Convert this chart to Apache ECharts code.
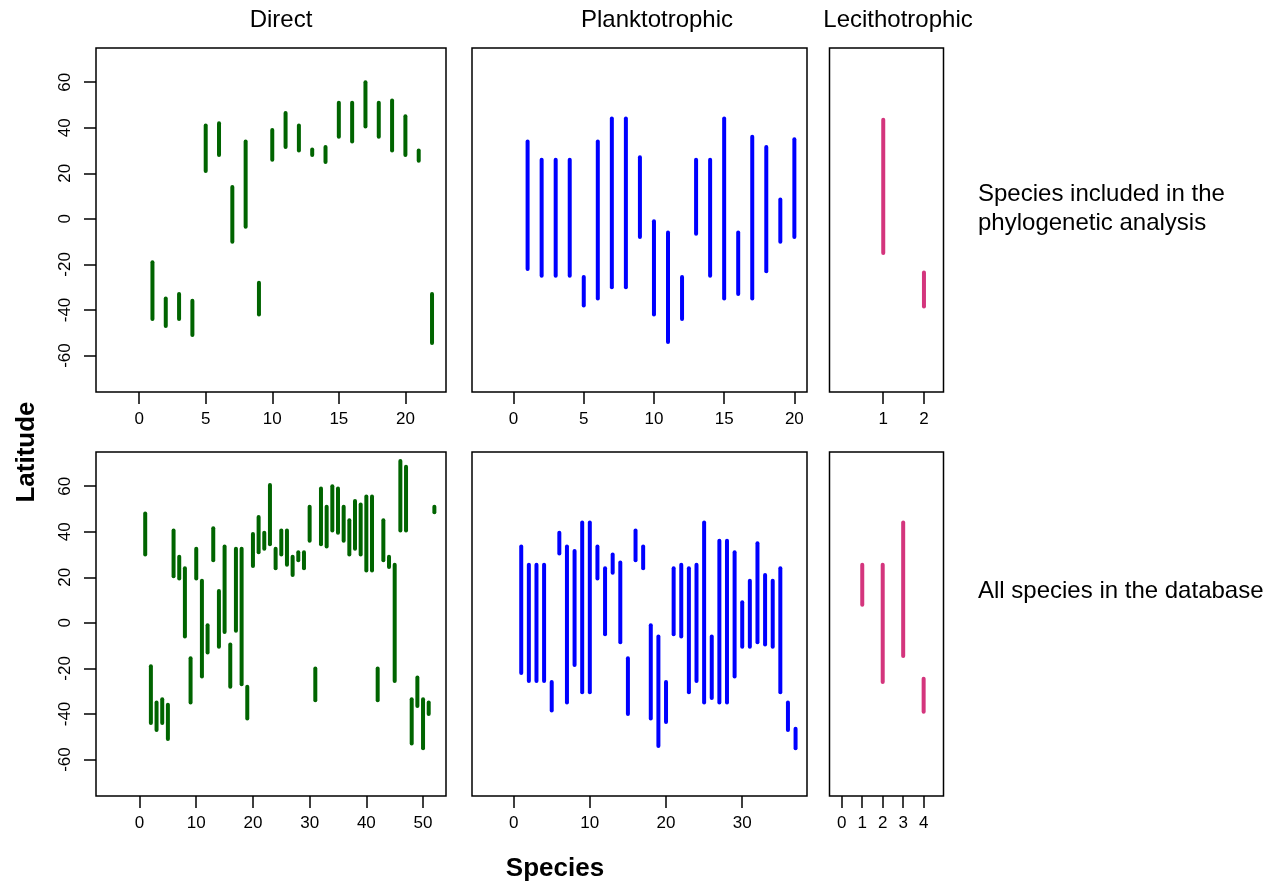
<!DOCTYPE html>
<html>
<head>
<meta charset="utf-8">
<script src="https://cdn.jsdelivr.net/npm/echarts@6/dist/echarts.min.js"></script>
<style>
  html, body { margin: 0; padding: 0; background: #fff; }
  #chart { width: 1271px; height: 883px; }
</style>
</head>
<body>
<div id="chart"></div>
<script>
// latitude ranges per species, species numbered 1..n in each panel
// top row: species included in the phylogenetic analysis
var directTopLo = [-44, -47, -44, -51, 21, 28, -10, -3.5, -42, 26, 31.5, 30, 28, 25, 36, 34, 40.5, 36, 30, 28, 25.5, -54.5];
var directTopHi = [-19, -35, -33, -36, 41, 42, 14, 34, -28, 39, 46.5, 41, 30.5, 31.5, 51, 51, 60, 51, 52, 45, 30, -33];

var planktoTopLo = [-22, -25, -25, -25, -38, -35, -30, -30, -8, -42, -54, -44, -6.5, -25, -35, -33, -35, -23, -10, -8];
var planktoTopHi = [34, 26, 26, 26, -25.5, 34, 44, 44, 27, -1, -6, -25.5, 26, 26, 44, -6, 36, 31.5, 8.5, 35];

var lecithoTopLo = [-15, -38.5];
var lecithoTopHi = [43.5, -23.5];

// bottom row: all species in the database
var directAllLo = [30, -44, -47, -44, -51, 20.5, 19.5, -6, -35, 19.5, -23.5, -13, 27.5, -10.5, -4, -28, -3.5, -27, -42, 25,
  31, 32.5, 34.5, 24, 30, 25.5, 21, 27.5, 24, 36, -34, 34.5, 33.5, 40.5, 39.5, 36, 30, 32.5, 30, 23,
  23, -34, 27.5, 24.5, -25.5, 40.5, 40.5, -53, -36.5, -55, -40, 48.5];
var directAllHi = [48, -19, -35, -33.5, -36, 40.5, 29, 24, -15.5, 32.5, 18.5, -1, 41.5, 14, 33.5, -9.5, 32.5, 32.5, -28, 39,
  46.5, 39.5, 60.5, 32.5, 40.5, 40.5, 29, 31, 31, 51, -20, 59, 51, 60, 59, 51, 45, 53.5, 52, 55.5,
  55.5, -20, 45, 29, 25.5, 71, 68.5, -33.5, -24, -33.5, -35, 51];

var planktoAllLo = [-22, -25.5, -25.5, -25.5, -38.5, 30.5, -35, -18.5, -30.5, -30.5, 19.5, -5, 22, -8.5, -40, 27.5, 24, -42, -54,
  -43.5, -5, -6, -30.5, -25.5, -35, -33, -35, -35, -23.5, -10.5, -10.5, -8.5, -9.5, -10.5, -30.5, -47, -55];
var planktoAllHi = [33.5, 25.5, 25.5, 25.5, -26, 39.5, 33.5, 31.5, 44, 44, 33.5, 24, 30, 26.5, -15.5, 40.5, 33.5, -1, -6,
  -26, 24, 25.5, 24, 25.5, 44, -6, 36, 36, 31, 9, 18.5, 35, 21, 18.5, 24, -35, -46.5];

var lecithoAllLo = [8, -26, -14.5, -39];
var lecithoAllHi = [25.5, 25.5, 44, -24.5];

// axis ticks
var latTicks = [-60, -40, -20, 0, 20, 40, 60];
var directTopTicks = [0, 5, 10, 15, 20];
var planktoTopTicks = [0, 5, 10, 15, 20];
var lecithoTopTicks = [1, 2];
var directAllTicks = [0, 10, 20, 30, 40, 50];
var planktoAllTicks = [0, 10, 20, 30];
var lecithoAllTicks = [0, 1, 2, 3, 4];

var GREEN = '#006400';
var BLUE = '#0000ff';
var PINK = '#d4357d';
var FONT = '"Liberation Sans", Arial, Helvetica, sans-serif';

function rows(lo, hi) {
  var out = [];
  for (var i = 0; i < lo.length; i++) {
    out.push([i + 1, lo[i], hi[i]]);
  }
  return out;
}

function rangeSeries(idx, lo, hi, color) {
  return {
    type: 'custom',
    xAxisIndex: idx,
    yAxisIndex: idx,
    encode: { x: 0, y: [1, 2] },
    data: rows(lo, hi),
    renderItem: function (params, api) {
      var a = api.coord([api.value(0), api.value(1)]);
      var b = api.coord([api.value(0), api.value(2)]);
      return {
        type: 'line',
        shape: { x1: a[0], y1: a[1], x2: b[0], y2: b[1] },
        style: { stroke: color, lineWidth: 4, lineCap: 'round' }
      };
    }
  };
}

// panel layout: [left, top, width, height]
var panels = [
  { box: [96, 48, 350, 344], xr: [-3.24, 23.05], ticks: directTopTicks, yLabels: true },
  { box: [472, 48, 335, 344], xr: [-2.96, 20.9], ticks: planktoTopTicks, yLabels: false },
  { box: [829.5, 48, 114, 344], xr: [-0.32, 2.48], ticks: lecithoTopTicks, yLabels: false },
  { box: [96, 452, 350, 344], xr: [-7.68, 54.05], ticks: directAllTicks, yLabels: true },
  { box: [472, 452, 335, 344], xr: [-5.46, 38.5], ticks: planktoAllTicks, yLabels: false },
  { box: [829.5, 452, 114, 344], xr: [-0.6, 4.97], ticks: lecithoAllTicks, yLabels: false }
];

var grids = [], xAxes = [], yAxes = [];
panels.forEach(function (p, i) {
  grids.push({
    left: p.box[0], top: p.box[1], width: p.box[2], height: p.box[3],
    show: true, borderColor: '#000', borderWidth: 1.5, backgroundColor: '#fff'
  });
  xAxes.push({
    type: 'value', gridIndex: i, min: p.xr[0], max: p.xr[1],
    position: 'bottom',
    axisLine: { show: false, onZero: false },
    splitLine: { show: false },
    axisTick: { show: true, customValues: p.ticks, length: 12, lineStyle: { color: '#000', width: 1.5 } },
    axisLabel: { show: true, customValues: p.ticks, margin: 19, color: '#000', fontSize: 17, fontFamily: FONT }
  });
  yAxes.push({
    type: 'value', gridIndex: i, min: -76, max: 75,
    position: 'left',
    axisLine: { show: false, onZero: false },
    splitLine: { show: false },
    axisTick: { show: p.yLabels, customValues: latTicks, length: 12, lineStyle: { color: '#000', width: 1.5 } },
    axisLabel: { show: p.yLabels, customValues: latTicks, rotate: 90, margin: 22, color: '#000', fontSize: 17, fontFamily: FONT }
  });
});

function label(text, x, y, opts) {
  opts = opts || {};
  return {
    type: 'text',
    x: x, y: y,
    rotation: opts.rotation || 0,
    style: {
      text: text,
      fill: '#000',
      font: (opts.weight || 'normal') + ' ' + (opts.size || 24) + 'px ' + FONT,
      align: opts.align || 'center',
      textAlign: opts.align || 'center',
      verticalAlign: 'middle',
      textVerticalAlign: 'middle'
    }
  };
}

var chart = echarts.init(document.getElementById('chart'));
chart.setOption({
  animation: false,
  backgroundColor: '#fff',
  grid: grids,
  xAxis: xAxes,
  yAxis: yAxes,
  graphic: [
    label('Direct', 281, 20),
    label('Planktotrophic', 657, 20),
    label('Lecithotrophic', 898, 20),
    label('Species included in the', 978, 194, { align: 'left' }),
    label('phylogenetic analysis', 978, 223, { align: 'left' }),
    label('All species in the database', 978, 591, { align: 'left' }),
    label('Latitude', 27, 452, { weight: 'bold', size: 26, rotation: Math.PI / 2 }),
    label('Species', 555, 869, { weight: 'bold', size: 26 })
  ],
  series: [
    rangeSeries(0, directTopLo, directTopHi, GREEN),
    rangeSeries(1, planktoTopLo, planktoTopHi, BLUE),
    rangeSeries(2, lecithoTopLo, lecithoTopHi, PINK),
    rangeSeries(3, directAllLo, directAllHi, GREEN),
    rangeSeries(4, planktoAllLo, planktoAllHi, BLUE),
    rangeSeries(5, lecithoAllLo, lecithoAllHi, PINK)
  ]
});
</script>
</body>
</html>
